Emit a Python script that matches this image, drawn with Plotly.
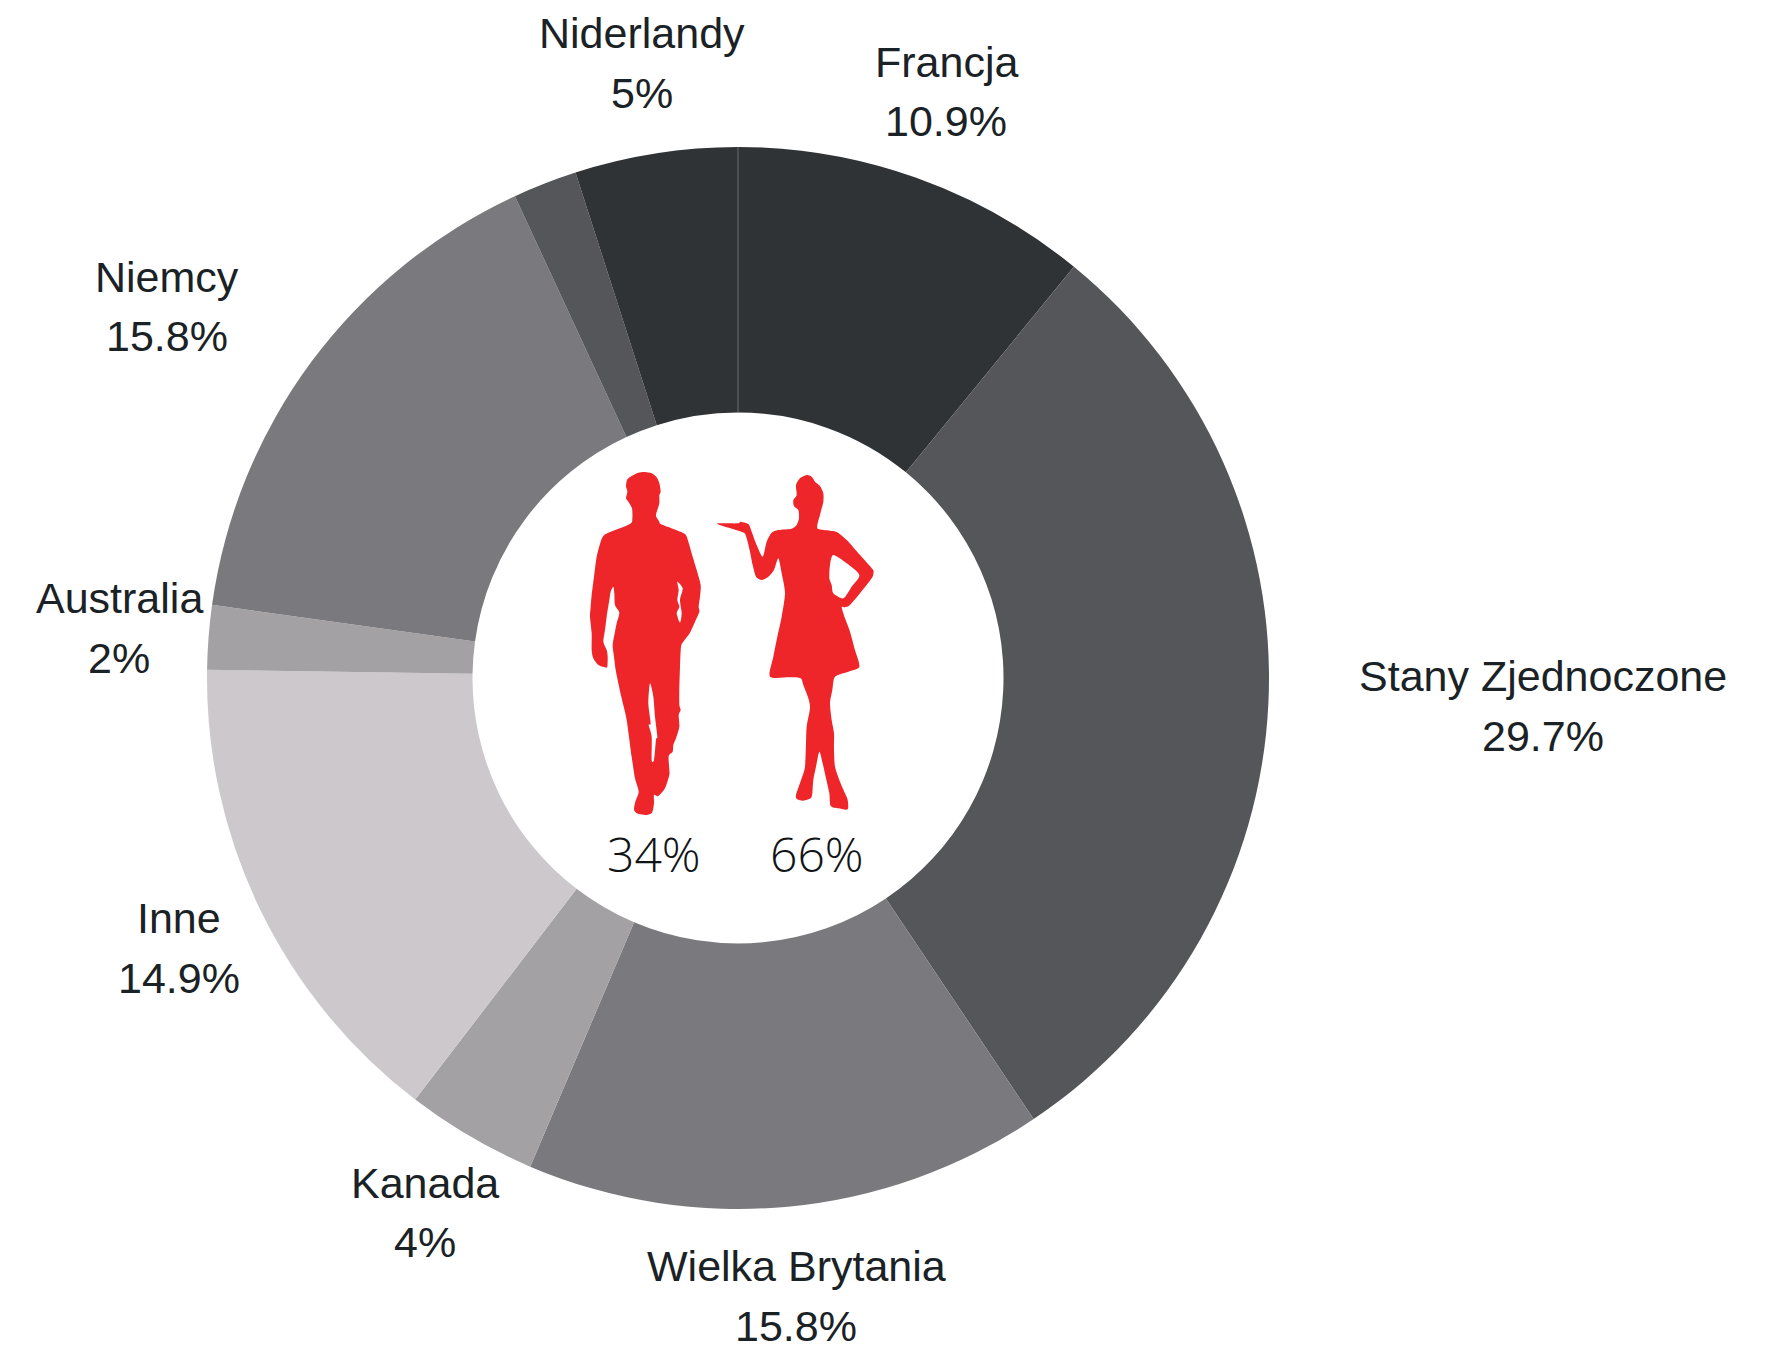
import plotly.graph_objects as go

W, H = 1772, 1350

# ---- data ----
countries = ["Francja", "Stany Zjednoczone", "Wielka Brytania", "Kanada", "Inne",
             "Australia", "Niemcy", "", "Niderlandy"]
# slice sizes as measured on the picture
shares = [10.9, 29.7, 15.8, 4, 14.85, 1.95, 15.9, 1.95, 4.95]
# percentages as printed on the picture
share_labels = ["10.9%", "29.7%", "15.8%", "4%", "14.9%", "2%", "15.8%", "", "5%"]
colors = ["#303336", "#555659", "#7a797d", "#a3a1a4", "#ccc8cb",
          "#a3a1a4", "#7a797d", "#555659", "#303336"]
gender_labels = ["34%", "66%"]

# ---- label centres in page pixels (name line, value line) ----
label_x = [946, 1543, 796, 425, 179, 119, 167, None, 642]
name_y = [62, 676, 1266, 1183, 918, 598, 277, None, 33]
value_y = [121, 736, 1326, 1242, 978, 658, 336, None, 93]
gender_x = [654, 817]
gender_y = 853

# ---- silhouettes, in a local 3x grid ----
man = [(205,68),(225,66),(245,70),(260,82),(268,100),(272,125),(268,135),(268,160),(262,180),(258,197),
       (268,215),(272,222),(310,237),(345,252),(355,275),(368,320),(380,360),(392,405),(390,440),
       (386,470),(388,485),(375,515),(360,548),(340,575),(333,590),(330,650),(328,720),(328,765),
       (332,780),(326,795),(328,830),(318,865),(310,885),(308,905),(296,918),(298,960),(298,975),
       (285,1015),(265,1038),(252,1035),(252,1060),(246,1088),(225,1095),(200,1090),(192,1078),
       (196,1055),(206,1025),(195,985),(185,920),(170,810),(155,745),(138,665),(132,620),(128,585),
       (135,545),(140,520),(148,488),(135,465),(133,430),(130,410),(122,425),(118,450),(110,500),
       (105,540),(100,575),(110,600),(113,620),(112,650),(105,652),(85,645),(70,625),(65,600),
       (65,550),(60,500),(62,470),(65,435),(72,380),(80,320),(92,275),(100,258),(115,248),(180,222),
       (187,205),(186,175),(175,155),(168,145),(172,125),(168,108),(172,88),(185,78)]
man_holes = [[(240,700),(235,760),(242,820),(236,825),(245,860),(245,930),(252,930),(258,870),
              (262,860),(255,800),(250,740)],
             [(322,395),(326,420),(322,450),(328,470),(320,490),(330,518),(335,490),(330,450),(338,415)]]
woman = [(710,75),(725,80),(735,95),(750,108),(760,130),(760,155),(755,175),(750,195),(742,225),(745,237),
         (780,242),(800,246),(830,270),(870,315),(908,358),(910,372),(905,385),(870,430),(840,465),
         (825,472),(815,472),(825,505),(840,545),(855,600),(868,650),(835,665),(795,680),(787,720),
         (780,760),(785,810),(792,850),(792,900),(795,950),(810,995),(825,1030),(833,1050),(833,1078),
         (805,1075),(782,1068),(778,1030),(768,985),(758,940),(748,905),(738,950),(730,990),(727,1030),
         (722,1045),(700,1052),(682,1048),(678,1035),(695,985),(705,950),(708,880),(710,830),(720,775),
         (715,745),(700,705),(692,685),(660,682),(600,680),(610,620),(622,560),(635,500),(645,430),
         (635,370),(625,325),(612,360),(595,380),(575,390),(558,380),(548,345),(540,305),(530,265),
         (524,250),(508,243),(447,224),(447,220),(505,220),(510,215),(535,222),(545,245),(560,285),
         (578,320),(590,275),(605,248),(625,240),(665,236),(680,225),(687,205),(685,180),(672,168),
         (670,150),(680,135),(678,105),(690,85)]
woman_holes = [[(790,315),(780,345),(778,385),(785,405),(790,430),(820,445),(845,410),(868,375),(830,340)]]


def px(x):
    return x / W


def py(y):
    return 1 - y / H


def smooth(poly):
    """Closed Catmull-Rom outline as cubic Bezier path, page coords in paper units."""
    pts = [(px(570 + a / 3), py(450 + b / 3)) for a, b in poly]
    n = len(pts)
    out = f"M{pts[0][0]:.5f},{pts[0][1]:.5f}"
    k = 1 / 8
    for i in range(n):
        p0, p1, p2, p3 = pts[i - 1], pts[i], pts[(i + 1) % n], pts[(i + 2) % n]
        c1 = (p1[0] + (p2[0] - p0[0]) * k, p1[1] + (p2[1] - p0[1]) * k)
        c2 = (p2[0] - (p3[0] - p1[0]) * k, p2[1] - (p3[1] - p1[1]) * k)
        out += f" C{c1[0]:.5f},{c1[1]:.5f} {c2[0]:.5f},{c2[1]:.5f} {p2[0]:.5f},{p2[1]:.5f}"
    return out + " Z "


def to_path(outline, holes):
    return "".join(smooth(p) for p in [outline] + holes)


CX, CY, R = 738, 678, 531

fig = go.Figure(go.Pie(
    labels=[c if c else " " for c in countries],
    values=shares,
    hole=0.5,
    sort=False,
    direction="clockwise",
    rotation=0,
    textinfo="none",
    marker=dict(colors=colors, line=dict(width=0)),
    domain=dict(x=[px(CX - R), px(CX + R)], y=[py(CY + R), py(CY - R)]),
    showlegend=False,
))

TEXT = "#1a2226"
LABEL_FONT = dict(family="Liberation Sans", size=43, color=TEXT)
annotations = []
for c, v, x, y1, y2 in zip(countries, share_labels, label_x, name_y, value_y):
    if not c:
        continue
    annotations.append(dict(text=c, x=px(x), y=py(y1), xref="paper", yref="paper",
                            showarrow=False, xanchor="center", yanchor="middle", font=LABEL_FONT))
    annotations.append(dict(text=v, x=px(x), y=py(y2), xref="paper", yref="paper",
                            showarrow=False, xanchor="center", yanchor="middle", font=LABEL_FONT))
for t, x in zip(gender_labels, gender_x):
    annotations.append(dict(text=t, x=px(x), y=py(gender_y), xref="paper", yref="paper",
                            showarrow=False, xanchor="center", yanchor="middle",
                            font=dict(family="Open Sans", size=48, color="#111416", weight=300)))

RED = "#ee2529"
shapes = [
    dict(type="path", path=to_path(man, man_holes), xref="paper", yref="paper",
         fillcolor=RED, line=dict(width=0)),
    dict(type="path", path=to_path(woman, woman_holes), xref="paper", yref="paper",
         fillcolor=RED, line=dict(width=0)),
    dict(type="line", x0=px(CX), x1=px(CX), y0=py(CY - R), y1=py(CY - R / 2),
         xref="paper", yref="paper", line=dict(color="#6a6c6f", width=1)),
]

fig.update_layout(
    width=W, height=H,
    margin=dict(l=0, r=0, t=0, b=0),
    paper_bgcolor="white",
    annotations=annotations,
    shapes=shapes,
)

fig.write_html("out.html", config=dict(displayModeBar=False),
               post_script="document.body.style.margin='0';")
